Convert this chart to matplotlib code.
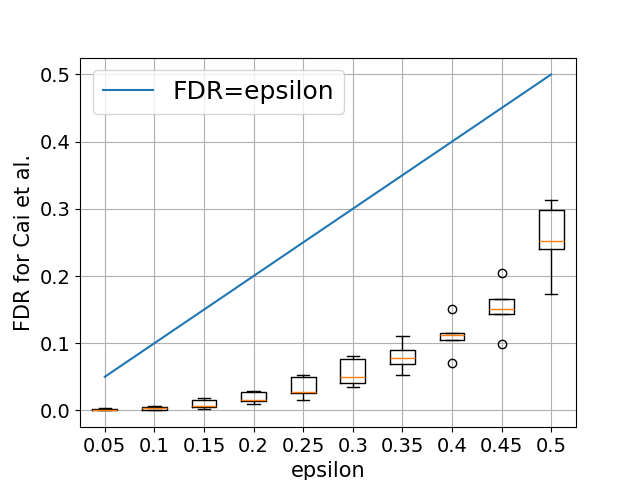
import numpy as np
import matplotlib
matplotlib.use("Agg")
import matplotlib.pyplot as plt

eps_labels = ['0.05', '0.1', '0.15', '0.2', '0.25', '0.3', '0.35', '0.4', '0.45', '0.5']
eps = [0.05, 0.1, 0.15, 0.2, 0.25, 0.3, 0.35, 0.4, 0.45, 0.5]

# box statistics
whislo = [0.0, 0.0, 0.0015, 0.009, 0.016, 0.035, 0.053, 0.105, 0.143, 0.173]
q1 = [0.0005, 0.001, 0.005, 0.014, 0.026, 0.0405, 0.069, 0.105, 0.143, 0.240]
med = [0.001, 0.004, 0.0064, 0.016, 0.027, 0.050, 0.078, 0.112, 0.151, 0.252]
q3 = [0.002, 0.005, 0.015, 0.028, 0.050, 0.077, 0.090, 0.115, 0.166, 0.298]
whishi = [0.003, 0.007, 0.019, 0.029, 0.053, 0.081, 0.110, 0.115, 0.166, 0.313]
fliers = [[], [], [], [], [], [], [], [0.151, 0.070], [0.205, 0.099], []]

stats = []
for k in range(len(eps)):
    stats.append(dict(whislo=whislo[k], q1=q1[k], med=med[k], q3=q3[k],
                      whishi=whishi[k], fliers=fliers[k]))

fig, ax = plt.subplots(figsize=(6.4, 4.8), dpi=100)
pos = np.arange(1, len(eps) + 1)
ax.bxp(stats, positions=pos)
ax.plot(pos, eps, label='FDR=epsilon')
ax.set_xticks(pos)
ax.set_xticklabels(eps_labels, fontsize=14)
ax.tick_params(axis='y', labelsize=14)
ax.set_xlabel('epsilon', fontsize=15)
ax.set_ylabel('FDR for Cai et al.', fontsize=15)
ax.grid(True)
ax.legend(fontsize=18)
plt.savefig('out.png')
